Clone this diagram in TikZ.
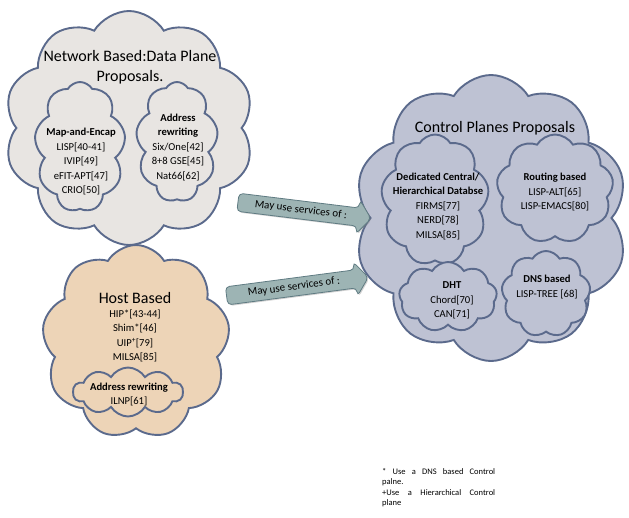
\documentclass[tikz,border=0pt]{standalone}
\usepackage{fontspec}
\setmainfont{Carlito}
\usetikzlibrary{shapes.symbols,shapes.arrows,shadows}

\definecolor{cloudline}{HTML}{5B6A8C}
\definecolor{netfill}{HTML}{E8E5E2}
\definecolor{hostfill}{HTML}{EDD4B7}
\definecolor{ctrlfill}{HTML}{BEC2D3}
\definecolor{arrowfill}{HTML}{9DB4B4}
\definecolor{arrowline}{HTML}{5F7B82}

\tikzset{
    puff/.style={cloud, cloud puffs=#1, cloud puff arc=118, cloud ignores aspect,
        draw=cloudline, line width=1.9pt, inner sep=0pt},
    puff/.default=9,
    headtext/.style={font=\fontsize{16}{20}\selectfont, align=center, inner sep=0pt},
    itemtext/.style={font=\fontsize{10.6}{14.5}\selectfont, align=center, inner sep=0pt},
    servicearrow/.style={single arrow, draw=arrowline, fill=arrowfill, line width=0.8pt,
        rounded corners=4pt, single arrow head extend=8pt, single arrow tip angle=105,
        minimum width=22pt, inner sep=4pt, font=\fontsize{11}{12}\selectfont,
        drop shadow={shadow xshift=1.2pt, shadow yshift=-1.2pt, opacity=0.35}},
    notetext/.style={font=\fontsize{8.5}{10.5}\selectfont, text width=113pt, align=justify, inner sep=0pt}
}

\begin{document}
\begin{tikzpicture}[x=1pt,y=1pt]
        \useasboundingbox (0,0) rectangle (629,-517);

        % network based data plane
        \node[puff=10, fill=netfill, minimum width=250, minimum height=234] (netcloud) at (129,-128) {};
        \node[headtext] (nettitle) at (130,-67) {Network Based:Data Plane\\Proposals.};
        \node[puff=9, fill=netfill, minimum width=91, minimum height=130] (mapcloud) at (80,-147) {};
        \node[itemtext] (maptext) at (81,-161.5) {\textbf{Map-and-Encap}\\LISP[40-41]\\IVIP[49]\\eFIT-APT[47]\\CRIO[50]};
        \node[puff=9, fill=netfill, minimum width=82, minimum height=120] (rwcloud) at (177,-142) {};
        \node[itemtext] (rwtext) at (178,-147) {\textbf{Address}\\\textbf{rewriting}\\Six/One[42]\\8+8 GSE[45]\\Nat66[62]};

        % host based
        \node[puff=9, fill=hostfill, minimum width=188, minimum height=194] (hostcloud) at (136,-342) {};
        \node[headtext] (hosttitle) at (135,-298) {Host Based};
        \node[itemtext] (hosttext) at (135,-336) {HIP*[43-44]\\Shim*[46]\\UIP\textsuperscript{+}[79]\\MILSA[85]};
        \node[puff=10, fill=hostfill, minimum width=110, minimum height=49] (ilnpcloud) at (128,-392) {};
        \node[itemtext] (ilnptext) at (129,-394.5) {\textbf{Address rewriting}\\ILNP[61]};

        % control planes
        \node[puff=10, fill=ctrlfill, minimum width=274, minimum height=286] (ctrlcloud) at (491,-218) {};
        \node[headtext] (ctrltitle) at (495,-128) {Control Planes Proposals};
        \node[puff=9, fill=ctrlfill, minimum width=108, minimum height=131] (dbcloud) at (435,-200) {};
        \node[itemtext] (dbtext) at (438,-206) {\textbf{Dedicated Central/}\\\textbf{Hierarchical Databse}\\FIRMS[77]\\NERD[78]\\MILSA[85]};
        \node[puff=9, fill=ctrlfill, minimum width=117, minimum height=109] (routecloud) at (555,-189) {};
        \node[itemtext] (routetext) at (555,-192) {\textbf{Routing based}\\LISP-ALT[65]\\LISP-EMACS[80]};
        \node[puff=9, fill=ctrlfill, minimum width=98, minimum height=70] (dhtcloud) at (448,-297) {};
        \node[itemtext] (dhttext) at (452,-300.5) {\textbf{DHT}\\Chord[70]\\CAN[71]};
        \node[puff=9, fill=ctrlfill, minimum width=89, minimum height=86] (dnscloud) at (546,-294) {};
        \node[itemtext] (dnstext) at (547,-287) {\textbf{DNS based}\\LISP-TREE [68]};

        % services arrows
        \node[servicearrow, minimum height=134, rotate=-7] (netuses) at (301,-210) {May use services of :};
        \node[servicearrow, minimum height=143, rotate=7.5] (hostuses) at (294,-287) {May use services of :};

        \node[notetext, anchor=north west] (note) at (382,-468)
            {* Use a DNS based Control\linebreak palne.\\+Use a Hierarchical Control\linebreak plane};
\end{tikzpicture}
\end{document}
